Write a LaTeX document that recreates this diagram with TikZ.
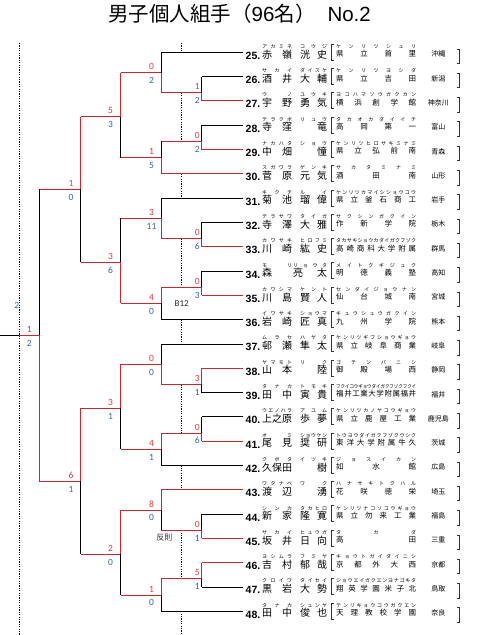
\documentclass[tikz,border=0pt]{standalone}
\usepackage{fontspec}
\usepackage{graphicx}

\newfontfamily\jpfont{Noto Sans CJK JP}
\newfontfamily\scorefont{Carlito}
\newfontfamily\arialfont{Liberation Sans}

\definecolor{winred}{RGB}{200,40,50}
\definecolor{scred}{RGB}{215,60,65}
\definecolor{scblue}{RGB}{55,100,160}

\newcommand\titlefont{\jpfont\fontsize{20.5}{20.5}\selectfont}
\newcommand\kanafont{\jpfont\fontsize{5}{5}\selectfont}
\newcommand\namefont{\jpfont\fontsize{10}{10}\selectfont}
\newcommand\schoolfont{\jpfont\fontsize{7.5}{7.5}\selectfont}
\newcommand\preffont{\jpfont\fontsize{7}{7}\selectfont}
\newcommand\numfont{\arialfont\bfseries\fontsize{10.5}{10.5}\selectfont}
\newcommand\scfont{\scorefont\fontsize{9.5}{9.5}\selectfont}

% spread the characters of a word over a box
\makeatletter
\def\spreadchars#1{\spread@a#1\spread@end}
\def\spread@a#1#2\spread@end{#1\ifx\relax#2\relax\else\hfill\spread@a#2\spread@end\fi}
\makeatother
\newsavebox\fitsave
\newcommand\fitbox[2]{\sbox\fitsave{#2}\ifdim\wd\fitsave>#1\relax\resizebox{#1}{\height}{\usebox\fitsave}\else\makebox[#1][s]{\spreadchars{#2}}\fi}

\tikzset{
  blk/.style={line width=0.8pt, black},
  wred/.style={line width=0.9pt, winred},
  dots/.style={line width=0.5pt, dash pattern=on 1.2pt off 1.2pt},
  brk/.style={line width=0.5pt, black!80},
  rsc/.style={inner sep=0, text=scred, font=\scfont},
  bsc/.style={inner sep=0, text=scblue, font=\scfont},
  txt/.style={inner sep=0, anchor=base west}
}

% left x of the given name box
\newcommand\gx{300}

% #1 no, #2 y, #3/#4 kana, #5/#6 name, #7 school kana, #8 school, #9 prefecture
\newcommand\player[9]{%
  \coordinate (p#1) at (243,#2);
  \node[txt, anchor=base east, font=\numfont] (no#1) at (260.5,#2+7) {#1.};
  \node[txt, font=\kanafont] (ks#1) at (262,#2-4) {\makebox[30pt][s]{\spreadchars{#3}}};
  \node[txt, font=\kanafont] (kg#1) at (\gx,#2-4) {\makebox[\dimexpr327pt-\gx pt\relax][s]{\spreadchars{#4}}};
  \node[txt, font=\namefont] (ns#1) at (262,#2+5.7) {\makebox[30pt][s]{\spreadchars{#5}}};
  \node[txt, font=\namefont] (ng#1) at (\gx,#2+5.7) {\makebox[\dimexpr327pt-\gx pt\relax][s]{\spreadchars{#6}}};
  \node[txt, font=\kanafont] (ka#1) at (336,#2-4) {\fitbox{80pt}{#7}};
  \node[txt, font=\schoolfont] (sc#1) at (336,#2+4.4) {\fitbox{80pt}{#8}};
  \node[inner sep=0, anchor=base, font=\preffont] (pf#1) at (438.3,#2+4.5) {#9};
  \draw[brk] (333.5,#2-8.3) -- (331,#2-8.3) -- (331,#2+7.7) -- (333.5,#2+7.7);
  \draw[brk] (456.8,#2-3.5) -- (459.3,#2-3.5) -- (459.3,#2+11) -- (456.8,#2+11);
}

% #1 x of bout, #2 x of next round, #3 top, #4 out, #5 bottom, #6 winner (1 top, 2 bottom)
\newcommand\bout[6]{%
  \draw[wred] (#2,#4) -- (#1,#4);
  \ifnum#6=1
    \draw[wred] (#1,#3) -- (#1,#4);
    \draw[blk] (#1,#4) -- (#1,#5);
  \else
    \draw[blk] (#1,#3) -- (#1,#4);
    \draw[wred] (#1,#4) -- (#1,#5);
  \fi}

\newcommand\score[5]{%
  \node[rsc] (#1r) at (#2,#3-6) {#4};
  \node[bsc] (#1b) at (#2,#3+7.8) {#5};}

\begin{document}
\begin{tikzpicture}[x=1pt,y=-1pt]
	\useasboundingbox (0,0) rectangle (483,635);

	\node[inner sep=0, anchor=west] (title) at (108,13.5) {\titlefont 男子個人組手（{\arialfont 96}名）\hspace{12pt}{\arialfont No.2}};

	\draw [dots] (19.3,43) -- (19.3,635);
	\foreach \ya/\yb in {43/52.3, 92.8/141.4, 173.8/198.1, 238.6/287.2, 319.6/343.9, 384.4/433, 465.4/489.7, 530.2/578.8, 611.2/635}
		\draw [dots] (181.3,\ya) -- (181.3,\yb);

	\player{25}{52.3}{アカミネ}{コウジ}{赤嶺}{洸史}{ケンリツシュリ}{県立首里}{沖縄}
	\player{26}{76.6}{サカイ}{ダイスケ}{酒井}{大輔}{ケンリツヨシダ}{県立吉田}{新潟}
	\player{27}{100.9}{ウノ}{ユウキ}{宇野}{勇気}{ヨコハマソウガクカン}{横浜創学館}{神奈川}
	\player{28}{125.2}{テラクボ}{リュウ}{寺窪}{\hfill 竜}{タカオカダイイチ}{高岡第一}{富山}
	\player{29}{149.5}{ナカハタ}{ショウ}{中畑}{\hfill 憧}{ケンリツヒロサキミナミ}{県立弘前南}{青森}
	\player{30}{173.8}{スガワラ}{ゲンキ}{菅原}{元気}{サカタミナミ}{酒田南}{山形}
	\player{31}{198.1}{キクチ}{ルイ}{菊池}{瑠偉}{ケンリツカマイシショウコウ}{県立釜石商工}{岩手}
	\player{32}{222.4}{テラサワ}{タイガ}{寺澤}{大雅}{サクシンガクイン}{作新学院}{栃木}
	\player{33}{246.7}{カワサキ}{ヒロフミ}{川崎}{紘史}{タカサキショウカダイガクフゾク}{高崎商科大学附属}{群馬}
	\def\gx{293}
	\player{34}{271.0}{モリ}{リョウタ}{森}{亮太}{メイトクギジュク}{明徳義塾}{高知}
	\def\gx{300}
	\player{35}{295.3}{カワシマ}{ケント}{川島}{賢人}{センダイジョウナン}{仙台城南}{宮城}
	\player{36}{319.6}{イワサキ}{ショウマ}{岩崎}{匠真}{キュウシュウガクイン}{九州学院}{熊本}
	\player{37}{343.9}{ムラセ}{ハヤタ}{邨瀬}{隼太}{ケンリツギフショウギョウ}{県立岐阜商業}{岐阜}
	\player{38}{368.2}{ヤマモト}{リク}{山本}{\hfill 陸}{ゴテンバニシ}{御殿場西}{静岡}
	\player{39}{392.5}{タナカ}{トモキ}{田中}{寅貴}{フクイコウギョウダイガクフゾクフクイ}{福井工業大学附属福井}{福井}
	\player{40}{416.8}{ウエノハラ}{アユム}{上之原}{歩夢}{ケンリツカノヤコウギョウ}{県立鹿屋工業}{鹿児島}
	\player{41}{441.1}{オミ}{ショウケン}{尾見}{奨研}{トウヨウダイガクフゾクウシク}{東洋大学附属牛久}{茨城}
	\player{42}{465.4}{クボタ}{イツキ}{久保田}{\hfill 樹}{ジョスイカン}{如水館}{広島}
	\player{43}{489.7}{ワタナベ}{ワク}{渡辺}{\hfill 湧}{ハナサキトクハル}{花咲徳栄}{埼玉}
	\player{44}{514.0}{シンカ}{タカヒロ}{新家}{隆寛}{ケンリツナコソコウギョウ}{県立勿来工業}{福島}
	\player{45}{538.3}{サカイ}{ヒュウガ}{坂井}{日向}{タカダ}{高田}{三重}
	\player{46}{562.6}{ヨシムラ}{フミヤ}{吉村}{郁哉}{キョウトガイダイニシ}{京都外大西}{京都}
	\player{47}{586.9}{クロイワ}{タイセイ}{黒岩}{大勢}{ショウエイガクエンヨナゴキタ}{翔英学園米子北}{鳥取}
	\player{48}{611.2}{タナカ}{シュンヤ}{田中}{俊也}{テンリキョウコウガクエン}{天理教校学園}{奈良}

	% entry lines
	\foreach \p/\len/\st in {25/82/blk, 26/41.3/blk, 27/41.3/wred, 28/41.3/blk, 29/41.3/wred, 30/82/wred,
		31/82/blk, 32/41.3/blk, 33/41.3/wred, 34/41.3/blk, 35/41.3/wred, 36/82/blk,
		37/82/blk, 38/41.3/wred, 39/41.3/blk, 40/41.3/blk, 41/41.3/wred, 42/82/blk,
		43/82/wred, 44/41.3/blk, 45/41.3/wred, 46/41.3/wred, 47/41.3/blk, 48/82/blk}
		\draw [\st] (p\p) -- ++(-\len,0);

	% first round
	\bout{201.7}{161}{76.6}{92.8}{100.9}{2}
	\bout{201.7}{161}{125.2}{141.4}{149.5}{2}
	\bout{201.7}{161}{222.4}{238.6}{246.7}{2}
	\bout{201.7}{161}{271.0}{287.2}{295.3}{2}
	\bout{201.7}{161}{368.2}{384.4}{392.5}{1}
	\bout{201.7}{161}{416.8}{433.0}{441.1}{2}
	\bout{201.7}{161}{514.0}{530.2}{538.3}{2}
	\bout{201.7}{161}{562.6}{578.8}{586.9}{1}
	% second round
	\bout{161}{120.7}{52.3}{72.55}{92.8}{2}
	\bout{161}{120.7}{141.4}{157.6}{173.8}{2}
	\bout{161}{120.7}{198.1}{218.35}{238.6}{2}
	\bout{161}{120.7}{287.2}{303.4}{319.6}{1}
	\bout{161}{120.7}{343.9}{364.15}{384.4}{2}
	\bout{161}{120.7}{433.0}{449.2}{465.4}{1}
	\bout{161}{120.7}{489.7}{509.95}{530.2}{1}
	\bout{161}{120.7}{578.8}{595.0}{611.2}{1}
	% third round
	\bout{120.7}{80.7}{72.55}{116.5}{157.6}{1}
	\bout{120.7}{80.7}{218.35}{262.3}{303.4}{2}
	\bout{120.7}{80.7}{364.15}{408.2}{449.2}{1}
	\bout{120.7}{80.7}{509.95}{554.2}{595.0}{1}
	% semi and final
	\bout{80.7}{39.3}{116.5}{189.4}{262.3}{1}
	\bout{80.7}{39.3}{408.2}{481.2}{554.2}{1}
	\bout{39.3}{19.3}{189.4}{335.3}{481.2}{2}
	\draw [blk] (0,335.3) -- (19.3,335.3);

	\score{a1}{197.2}{92.8}{1}{2}
	\score{b1}{197.2}{141.4}{0}{2}
	\score{c1}{197.2}{238.6}{0}{6}
	\score{d1}{197.2}{287.2}{0}{3}
	\score{e1}{197.2}{384.4}{3}{1}
	\score{f1}{197.2}{433.0}{0}{6}
	\score{g1}{197.2}{530.2}{0}{1}
	\score{h1}{197.2}{578.8}{5}{1}
	\score{a2}{151.5}{72.55}{0}{2}
	\score{b2}{151.5}{157.6}{1}{5}
	\score{c2}{151.5}{218.35}{3}{11}
	\score{d2}{151.5}{303.4}{4}{0}
	\score{e2}{151.5}{364.15}{0}{0}
	\score{f2}{151.5}{449.2}{4}{1}
	\score{g2}{151.5}{509.95}{8}{0}
	\score{h2}{151.5}{595.0}{1}{0}
	\score{a3}{110.5}{116.5}{5}{3}
	\score{b3}{110.5}{262.3}{3}{6}
	\score{c3}{110.5}{408.2}{3}{1}
	\score{d3}{110.5}{554.2}{2}{0}
	\score{a4}{71}{189.4}{1}{0}
	\score{b4}{71}{481.2}{6}{1}
	\score{a5}{29.3}{335.3}{1}{2}

	\node[bsc] (extra) at (16.7,305) {2};
	\node[inner sep=0, text=black!85, font=\scorefont\fontsize{9}{9}\selectfont] (b12) at (181.7,303.3) {B12};
	\node[inner sep=0, text=black!80, font=\jpfont\fontsize{8}{8}\selectfont] (foul) at (164.3,537.3) {反則};
\end{tikzpicture}
\end{document}
